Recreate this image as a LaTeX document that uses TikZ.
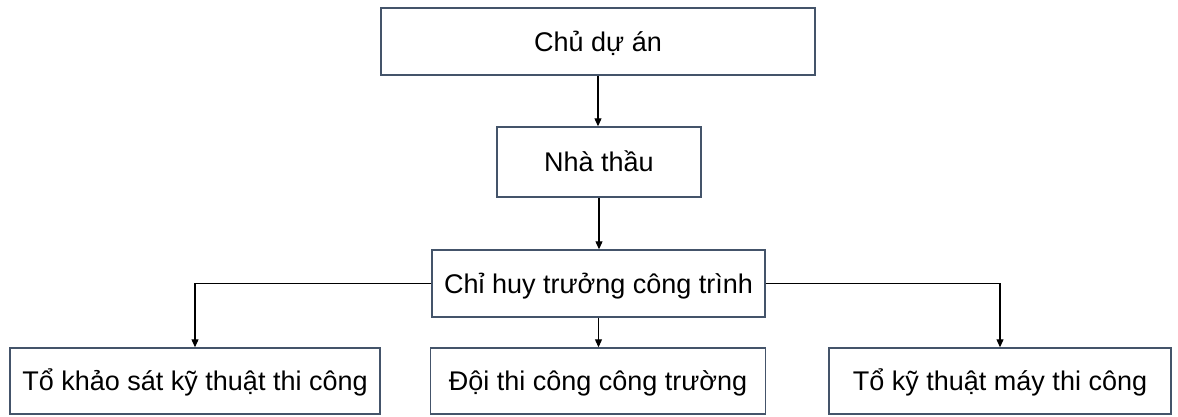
\documentclass[tikz,border=0pt]{standalone}
\usepackage{fontspec}
\setmainfont{Liberation Sans}
\usetikzlibrary{arrows.meta}
\definecolor{boxline}{HTML}{44546A}
\begin{document}
\begin{tikzpicture}[x=1pt,y=-1pt,
  orgbox/.style={draw=boxline,line width=1.4pt,fill=white,inner sep=0pt,
    text height=19pt,text depth=0pt,
    font=\fontsize{27}{31}\selectfont},
  link/.style={draw=black,line width=1.1pt,-{Triangle[length=8pt,width=7pt]}}]
\useasboundingbox (0,0) rectangle (1178,416);
\node[orgbox,minimum width=434pt,minimum height=67pt] (cda) at (598,41.5) {Chủ dự án};
\node[orgbox,minimum width=204pt,minimum height=70pt] (nt) at (599,162) {Nhà thầu};
\node[orgbox,minimum width=333pt,minimum height=67pt] (ch) at (598.5,283.5) {Chỉ huy trưởng công trình};
\node[orgbox,minimum width=370pt,minimum height=66pt] (b1) at (195,381) {Tổ khảo sát kỹ thuật thi công};
\node[orgbox,minimum width=335pt,minimum height=66pt] (b2) at (598,381) {Đội thi công công trường};
\node[orgbox,minimum width=342pt,minimum height=66pt] (b3) at (1000,381) {Tổ kỹ thuật máy thi công};
\draw[link] (cda.south) -- (cda.south |- nt.north);
\draw[link] (nt.south) -- (nt.south |- ch.north);
\draw[link] (ch.west) -| (b1.north);
\draw[link] (ch.south) -- (ch.south |- b2.north);
\draw[link] (ch.east) -| (b3.north);
\end{tikzpicture}
\end{document}
